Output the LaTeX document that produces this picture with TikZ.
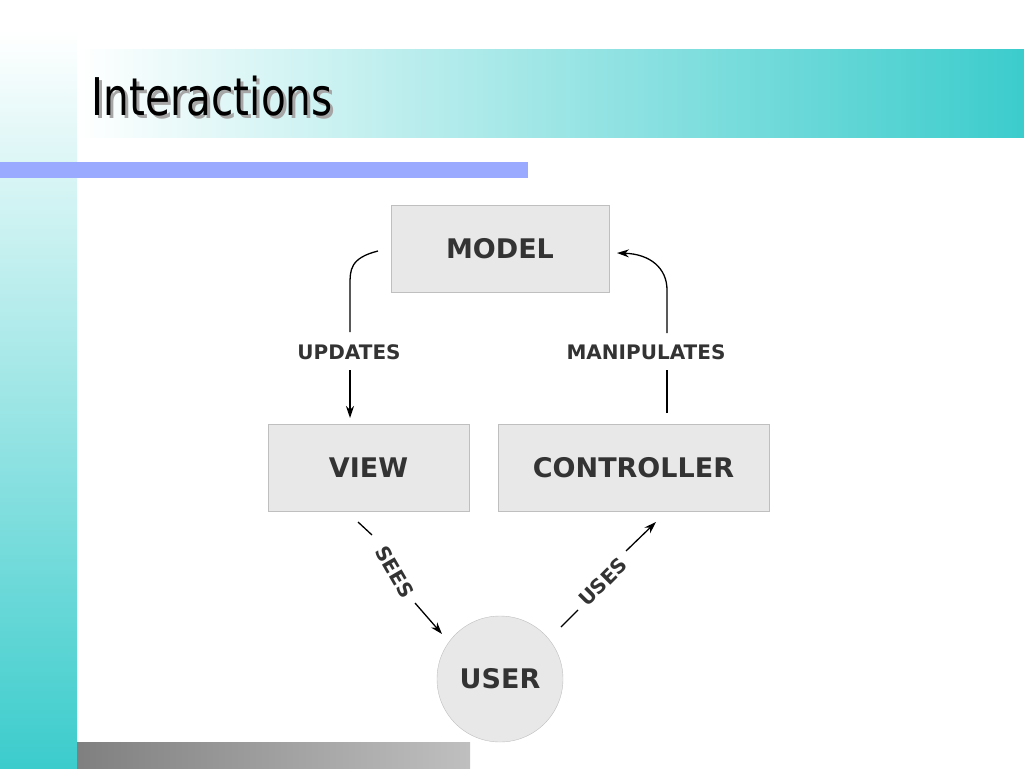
\documentclass[tikz,border=0pt]{standalone}
\usepackage{fontspec}
\setmainfont{DejaVu Sans}
\usetikzlibrary{arrows.meta}
\definecolor{teal1}{HTML}{3CCCCC}
\definecolor{blu}{HTML}{99AAFF}
\definecolor{txt}{HTML}{333333}
\tikzset{
 box/.style={draw=black!25,fill=black!9,minimum width=#1,minimum height=87pt,inner sep=0pt,font=\bfseries\fontsize{27}{27}\selectfont,text=txt},
 lbl/.style={font=\bfseries\fontsize{20}{20}\selectfont,text=txt},
 arr/.style={line width=1.3pt,-{Stealth[length=12pt,width=8pt]}},
 ln/.style={line width=1.3pt}
}
\begin{document}
\begin{tikzpicture}[x=1pt,y=-1pt]
\useasboundingbox (0,0) rectangle (1024,768);
\shade[top color=white,bottom color=teal1] (0,30) rectangle (77,768);
\shade[left color=white,right color=teal1] (77,50) rectangle (1024,137);
\fill[blu] (0,162) rectangle (528,178);
\shade[left color=black!50,right color=black!25] (77,742) rectangle (470,768);
\node[anchor=west,text=black!35] (tsh) at (91,99) {\scalebox{0.78}[1]{\fontsize{52}{52}\selectfont Interactions}};
\node[anchor=west,text=black] (title) at (88,96) {\scalebox{0.78}[1]{\fontsize{52}{52}\selectfont Interactions}};
\node[box=218pt] (model) at (500,248.5) {MODEL};
\node[box=201pt] (view) at (368.5,467.5) {VIEW};
\node[box=271pt] (ctrl) at (633.5,467.5) {CONTROLLER};
\node[circle,draw=black!25,fill=black!9,minimum size=126pt,inner sep=0pt,font=\bfseries\fontsize{27}{27}\selectfont,text=txt] (user) at (500,679) {USER};
\node[lbl] (upd) at (349,352) {UPDATES};
\node[lbl] (man) at (646,352) {MANIPULATES};
\coordinate (a1) at (378,251);
\coordinate (a2) at (350,332);
\coordinate (a3) at (350,418);
\draw[ln] (a1) .. controls (350,258) and (350,270) .. (350,285) -- (a2);
\draw[arr] (350,370) -- (a3);
\coordinate (b1) at (667,413);
\coordinate (b2) at (667,333);
\coordinate (b3) at (617,253);
\draw[ln] (b1) -- (667,370);
\draw[arr] (b2) -- (667,290) .. controls (667,268) and (650,254) .. (b3);
\node[lbl,rotate=-60] (sees) at (395,572) {SEES};
\draw[ln] (358,522) -- (372,535);
\draw[arr] (415,603) -- (442,634);
\node[lbl,rotate=45] (uses) at (603,582) {USES};
\draw[ln] (561,627) -- (578,610);
\draw[arr] (626,551) -- (656,522);
\end{tikzpicture}
\end{document}
